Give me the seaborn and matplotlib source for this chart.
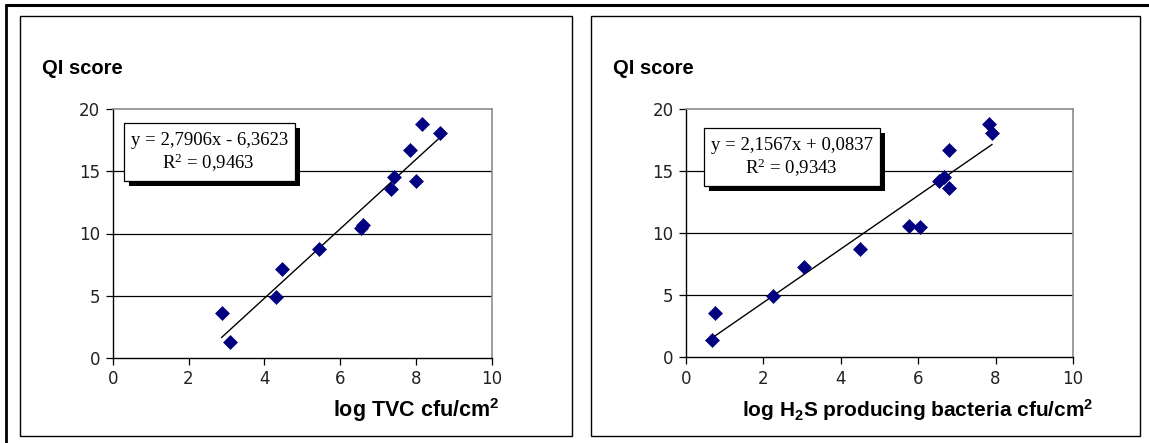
import matplotlib
matplotlib.use("Agg")
import matplotlib.pyplot as plt
from matplotlib.patches import Rectangle
from matplotlib.lines import Line2D
import seaborn as sns

# QI score against log total viable count
tvc_log = [2.87, 3.08, 4.30, 4.46, 5.43, 6.54, 6.59, 7.34, 7.41, 8.00, 7.84, 8.16, 8.63]
tvc_qi = [3.64, 1.31, 4.87, 7.18, 8.73, 10.42, 10.68, 13.55, 14.51, 14.24, 16.71, 18.77, 18.10]

# QI score against log H2S producing bacteria
h2s_log = [0.66, 0.76, 2.25, 3.05, 4.50, 5.75, 6.04, 6.53, 6.67, 6.79, 6.79, 7.82, 7.91]
h2s_qi = [1.37, 3.57, 4.92, 7.28, 8.68, 10.59, 10.48, 14.22, 14.54, 13.65, 16.69, 18.76, 18.04]

# linear trend lines: slope, intercept, R squared
tvc_fit = (2.7906, -6.3623, 0.9463)
h2s_fit = (2.1567, 0.0837, 0.9343)

x_ticks = [0, 2, 4, 6, 8, 10]
y_ticks = [0, 5, 10, 15, 20]
y_title = "QI score"
tvc_xlabel = "log TVC cfu/cm$^2$"
h2s_xlabel = "log H$_2$S producing bacteria cfu/cm$^2$"

sns.set_theme(style="white")
plt.rcParams["font.family"] = ["DejaVu Sans"]
plt.rcParams["mathtext.default"] = "regular"

W, H = 1149, 443
fig = plt.figure(figsize=(W / 100, H / 100), dpi=100)
fig.patch.set_facecolor("white")


def fx(px):
    return px / W


def fy(py):
    return 1 - py / H


def frect(x0, y0, x1, y1, **kw):
    r = Rectangle((fx(x0), fy(y1)), fx(x1) - fx(x0), fy(y0) - fy(y1),
                  transform=fig.transFigure, **kw)
    fig.patches.append(r)
    return r


# outer cell border (top and left only)
fig.lines.append(Line2D([fx(5), fx(W)], [fy(5), fy(5)], transform=fig.transFigure,
                        color="black", lw=2.2, solid_capstyle="butt"))
fig.lines.append(Line2D([fx(6), fx(6)], [fy(4), fy(H)], transform=fig.transFigure,
                        color="black", lw=2.0, solid_capstyle="butt"))


def fmt_eq(slope, icpt):
    sign = "-" if icpt < 0 else "+"
    return (f"y = {slope:.4f}x {sign} {abs(icpt):.4f}").replace(".", ",")


def panel(box, axpx, xs, ys, fit, xlabel, xlabel_right, xlabel_size, eqbox, title_x):
    # chart frame
    frect(*box, facecolor="none", edgecolor="black", lw=1.0, zorder=0.5)

    x0, y0, x1, y1 = axpx
    ax = fig.add_axes([fx(x0), fy(y1), fx(x1) - fx(x0), fy(y0) - fy(y1)])
    ax.set_facecolor("white")
    ax.set_xlim(0, 10)
    ax.set_ylim(0, 20)
    ax.set_xticks(x_ticks)
    ax.set_yticks(y_ticks)
    for v in [5, 10, 15]:
        ax.axhline(v, color="black", lw=0.9, zorder=1)
    for side in ["top", "right"]:
        ax.spines[side].set_color("#8c8c8c")
        ax.spines[side].set_linewidth(1.2)
    for side in ["left", "bottom"]:
        ax.spines[side].set_color("black")
        ax.spines[side].set_linewidth(1.0)
    ax.tick_params(axis="both", direction="out", length=5, width=0.9,
                   color="black", labelsize=12, labelcolor="#222222", pad=4,
                   left=True, bottom=True)

    slope, icpt, r2 = fit
    lo, hi = min(xs), max(xs)
    ax.plot([lo, hi], [slope * lo + icpt, slope * hi + icpt], color="black", lw=1.0, zorder=2)
    sns.scatterplot(x=xs, y=ys, ax=ax, marker="D", color="#000080", s=50,
                    edgecolor="#000080", linewidth=0.5, zorder=3, legend=False)
    ax.set_xlabel("")
    ax.set_ylabel("")

    # equation label with drop shadow
    bx0, by0, bx1, by1 = eqbox
    frect(bx0 + 5, by0 + 5, bx1 + 5, by1 + 5, facecolor="black", edgecolor="none", zorder=2)
    frect(bx0, by0, bx1, by1, facecolor="white", edgecolor="black", lw=0.9, zorder=2.1)
    cx = (bx0 + bx1) / 2
    fig.text(fx(cx), fy(by0 + 18), fmt_eq(slope, icpt), ha="center", va="center",
             fontsize=13.5, family="Liberation Serif", color="black", zorder=3)
    fig.text(fx(cx - 1), fy(by0 + 40), ("R$^{2}$ = " + f"{r2:.4f}").replace(".", ","),
             ha="center", va="center", fontsize=13.5, family="Liberation Serif",
             color="black", zorder=3)

    fig.text(fx(title_x), fy(68), y_title, ha="left", va="center", fontsize=14.5,
             fontweight="bold", family="Liberation Sans", color="black")
    fig.text(fx(xlabel_right), fy(410), xlabel, ha="right", va="center", fontsize=xlabel_size,
             fontweight="bold", family="Liberation Sans", color="black")
    return ax


panel((20, 16, 572, 436), (112.7, 109, 492, 358), tvc_log, tvc_qi, tvc_fit,
      tvc_xlabel, 499, 15.5, (124, 123, 295, 181), 42)
panel((591, 16, 1140, 436), (686, 109, 1073, 357), h2s_log, h2s_qi, h2s_fit,
      h2s_xlabel, 1093, 15, (704, 128, 880, 186), 613)

fig.savefig("out.png", dpi=100)
